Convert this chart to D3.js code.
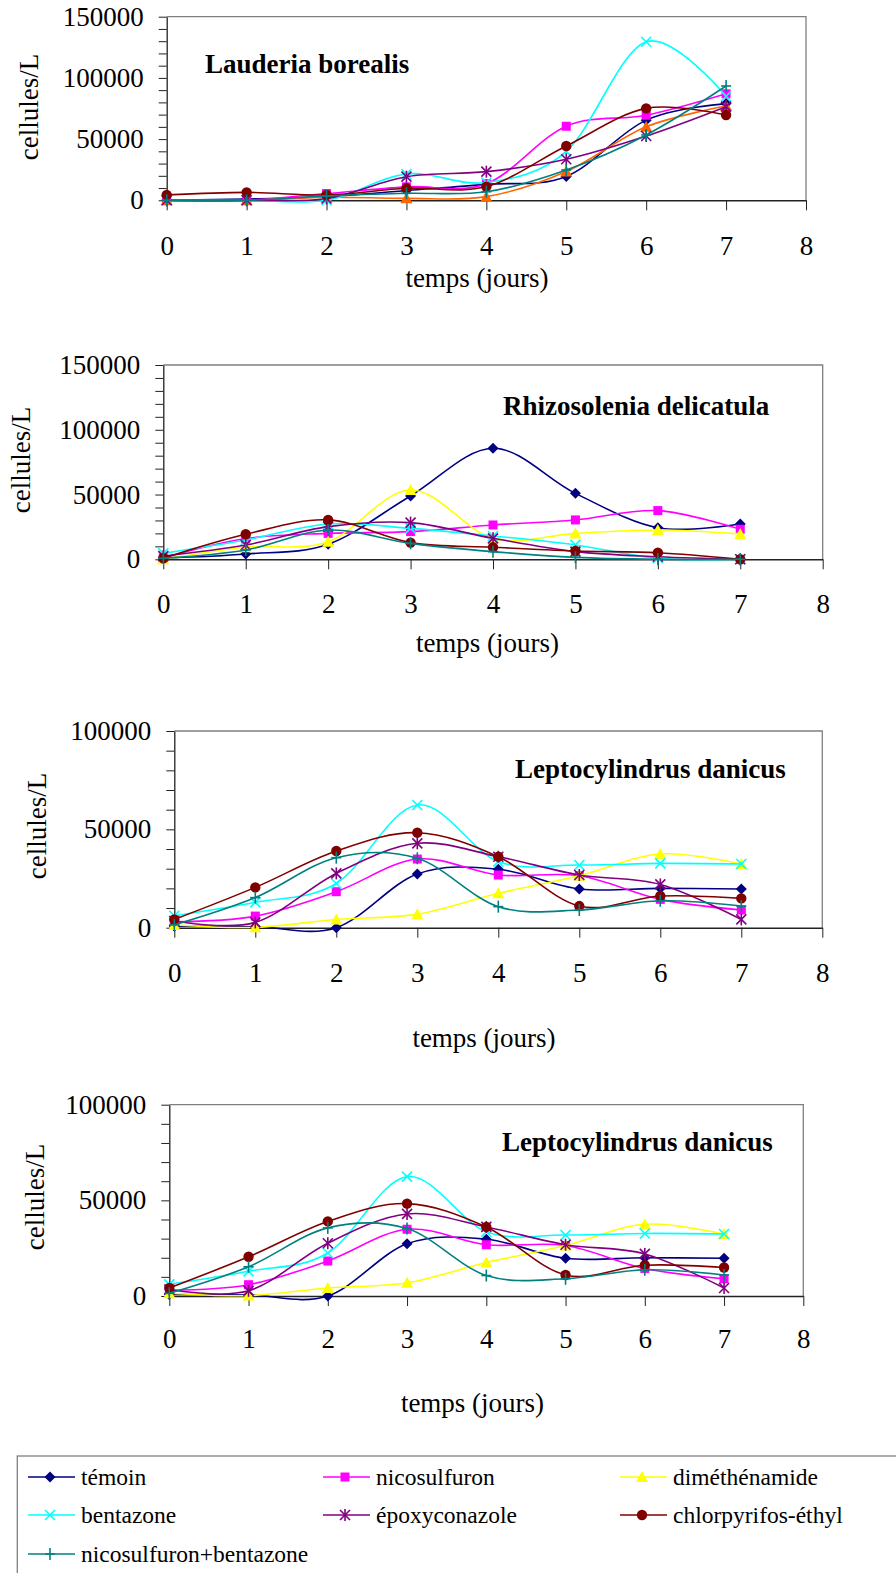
<!DOCTYPE html>
<html><head><meta charset="utf-8">
<script src="https://cdn.jsdelivr.net/npm/d3@7"></script>
<style>
html,body{margin:0;padding:0;background:#fff;}
svg{display:block;font-family:"Liberation Serif","Times New Roman",serif;}
</style></head>
<body>
<svg id="chart" width="896" height="1573"></svg>
<script>
// ---------- DATA ----------
const days = [0, 1, 2, 3, 4, 5, 6, 7];
const xTickValues = [0, 1, 2, 3, 4, 5, 6, 7, 8];
const seriesNames = ["témoin", "nicosulfuron", "diméthénamide", "bentazone", "époxyconazole", "chlorpyrifos-éthyl", "nicosulfuron+bentazone"];
const panelTitles = ["Lauderia borealis", "Rhizosolenia delicatula", "Leptocylindrus danicus", "Leptocylindrus danicus"];
const yTickLabels150 = [0, 50000, 100000, 150000];
const yTickLabels100 = [0, 50000, 100000];
const xAxisTitle = "temps (jours)";
const yAxisTitle = "cellules/L";

// Lauderia borealis (rows follow seriesNames)
const lauderiaValues = [
  [0, 1000, 3000, 8000, 13000, 19500, 65500, 79000],
  [0, 0, 5500, 11000, 13500, 60500, 69500, 87000],
  [0, 0, 2500, 1600, 3000, 23500, 60000, 77000],
  [0, 0, 0, 21500, 14500, 40000, 129500, 85000],
  [0, 0, 1500, 19300, 23400, 33500, 52500, 76500],
  [4400, 6500, 4400, 9800, 11200, 44400, 75100, 69700],
  [0, 0, 3500, 5700, 7000, 24800, 53400, 93400]
];
// Rhizosolenia delicatula
const rhizosoleniaValues = [
  [1000, 4100, 11600, 48900, 85700, 50900, 24400, 27300],
  [1000, 16000, 20000, 21400, 26500, 30400, 37600, 23200],
  [0, 9300, 13600, 53500, 16200, 20000, 22600, 19600],
  [4600, 14900, 27300, 23900, 18000, 11100, 800, 0],
  [2500, 11000, 25200, 28300, 16200, 5900, 2000, 0],
  [800, 19300, 30400, 12900, 9300, 6400, 5100, 0],
  [800, 7200, 22600, 12300, 5900, 1500, 0, 0]
];
// Leptocylindrus danicus
const leptocylindrusValues = [
  [800, 500, 0, 27300, 29700, 19700, 20000, 19700],
  [3000, 5900, 18300, 34900, 26800, 26400, 14400, 9000],
  [1400, 200, 4200, 6900, 17500, 26400, 37500, 32400],
  [6100, 12900, 22500, 62400, 33600, 31900, 32700, 32400],
  [3400, 2700, 27600, 42900, 36100, 26800, 22000, 4200],
  [4200, 20500, 39000, 48300, 36100, 11000, 16100, 14900],
  [1400, 15300, 35600, 35300, 10700, 9000, 13700, 11000]
];

// ---------- STYLE ----------
const seriesColors = ["#000080", "#FF00FF", "#FFFF00", "#00FFFF", "#800080", "#800000", "#008080"];
const seriesMarkers = ["diamond", "square", "triangle", "x", "asterisk", "circle", "plus"];
const FONT = 27;

const svg = d3.select("#chart");

function drawMarker(g, type, color) {
  const s = 5;
  if (type === "diamond") g.append("path").attr("d", `M0,${-s-0.5}L${s+0.5},0L0,${s+0.5}L${-s-0.5},0Z`).attr("fill", color);
  else if (type === "square") g.append("rect").attr("x", -4.5).attr("y", -4.5).attr("width", 9).attr("height", 9).attr("fill", color);
  else if (type === "triangle") g.append("path").attr("d", `M0,-6L6,5L-6,5Z`).attr("fill", color);
  else if (type === "circle") g.append("circle").attr("r", 5.2).attr("fill", color);
  else {
    const segs = [];
    if (type === "x" || type === "asterisk") segs.push([-s, -s, s, s], [-s, s, s, -s]);
    if (type === "asterisk") segs.push([0, -s - 1, 0, s + 1]);
    if (type === "plus") segs.push([0, -s - 1, 0, s + 1], [-s, 0, s, 0]);
    segs.forEach(p => g.append("line").attr("x1", p[0]).attr("y1", p[1]).attr("x2", p[2]).attr("y2", p[3])
      .attr("stroke", color).attr("stroke-width", 1.6));
  }
}

function drawPanel(cfg) {
  const x = d3.scaleLinear().domain([0, 8]).range([cfg.left, cfg.right]);
  const y = d3.scaleLinear().domain([0, cfg.yMax]).range([cfg.bottom, cfg.top]);
  const g = svg.append("g");

  // frame (top & right, grey)
  g.append("path").attr("d", `M${cfg.left},${cfg.top}H${cfg.right}V${cfg.bottom}`)
    .attr("fill", "none").attr("stroke", "#808080").attr("stroke-width", 1.3);

  // y axis
  const yAxis = d3.axisLeft(y)
    .tickValues(d3.range(0, cfg.yMax + 1, 10000))
    .tickSize(8).tickSizeOuter(0).tickPadding(15)
    .tickFormat(d => cfg.yLabels.includes(d) ? String(d) : "");
  const ya = g.append("g").attr("transform", `translate(${cfg.left},0)`).call(yAxis);
  ya.selectAll("text").attr("font-size", FONT).attr("font-family", "Liberation Serif, Times New Roman, serif").attr("fill", "#000");
  ya.selectAll("line").attr("stroke", "#222");
  ya.select(".domain").attr("stroke", "#222").attr("stroke-width", 1.3);

  // x axis
  const xAxis = d3.axisBottom(x).tickValues(xTickValues).tickSize(10).tickSizeOuter(0).tickFormat(d3.format("d"));
  const xa = g.append("g").attr("transform", `translate(0,${cfg.bottom})`).call(xAxis);
  xa.selectAll("text").attr("font-size", FONT).attr("font-family", "Liberation Serif, Times New Roman, serif")
    .attr("fill", "#000").attr("dy", null).attr("y", cfg.xLabelDy);
  xa.selectAll("line").attr("stroke", "#222");
  xa.select(".domain").attr("stroke", "#222").attr("stroke-width", 1.5);

  // titles
  g.append("text").attr("x", cfg.titleX).attr("y", cfg.titleY).attr("font-size", FONT).attr("font-weight", "bold")
    .text(cfg.title);
  g.append("text").attr("x", cfg.xTitleX).attr("y", cfg.xTitleY).attr("text-anchor", "middle").attr("font-size", FONT)
    .text(xAxisTitle);
  g.append("text").attr("transform", `translate(${cfg.yTitleX},${cfg.yTitleY}) rotate(-90)`)
    .attr("text-anchor", "middle").attr("dy", "0.35em").attr("font-size", FONT).text(yAxisTitle);

  // series
  const line = d3.line().x((d, i) => x(days[i])).y(d => y(d)).curve(d3.curveCardinal.tension(0));
  cfg.values.forEach((vals, si) => {
    const color = (cfg.colorOverride && cfg.colorOverride[si]) || seriesColors[si];
    g.append("path").attr("d", line(vals)).attr("fill", "none").attr("stroke", color).attr("stroke-width", 1.6);
    vals.forEach((v, i) => {
      const m = g.append("g").attr("transform", `translate(${x(days[i])},${y(v)})`);
      drawMarker(m, seriesMarkers[si], color);
    });
  });
}

drawPanel({left: 166.7, right: 806, top: 16.7, bottom: 200.3, yMax: 150000, yLabels: yTickLabels150,
  title: panelTitles[0], titleX: 205, titleY: 73, xLabelDy: 55, xTitleX: 477, xTitleY: 287, yTitleX: 29, yTitleY: 107,
  values: lauderiaValues, colorOverride: {2: "#FF6600"}});
drawPanel({left: 163.3, right: 822.7, top: 365, bottom: 559.3, yMax: 150000, yLabels: yTickLabels150,
  title: panelTitles[1], titleX: 503, titleY: 415, xLabelDy: 54, xTitleX: 487.5, xTitleY: 652, yTitleX: 21, yTitleY: 460,
  values: rhizosoleniaValues});
drawPanel({left: 174.3, right: 822.3, top: 731, bottom: 927.7, yMax: 100000, yLabels: yTickLabels100,
  title: panelTitles[2], titleX: 515, titleY: 778, xLabelDy: 54, xTitleX: 484, xTitleY: 1047, yTitleX: 37, yTitleY: 826,
  values: leptocylindrusValues});
drawPanel({left: 169.3, right: 803.3, top: 1104.7, bottom: 1296, yMax: 100000, yLabels: yTickLabels100,
  title: panelTitles[3], titleX: 502, titleY: 1151, xLabelDy: 52, xTitleX: 472.5, xTitleY: 1412, yTitleX: 35, yTitleY: 1197,
  values: leptocylindrusValues});

// legend
const lg = svg.append("g");
lg.append("rect").attr("x", 17.3).attr("y", 1456).attr("width", 900).attr("height", 200)
  .attr("fill", "none").attr("stroke", "#808080").attr("stroke-width", 1.3);
const colX = [28, 323, 620];
const rowY = [1477, 1515, 1554];
seriesNames.forEach((name, i) => {
  const cx = colX[i % 3], cy = rowY[Math.floor(i / 3)];
  const it = lg.append("g").attr("transform", `translate(${cx},${cy})`);
  it.append("line").attr("x1", 0).attr("x2", 47).attr("y1", 0).attr("y2", 0).attr("stroke", seriesColors[i]).attr("stroke-width", 1.6);
  drawMarker(it.append("g").attr("transform", "translate(22,0)"), seriesMarkers[i], seriesColors[i]);
  it.append("text").attr("x", 53).attr("y", 0).attr("dy", "0.32em").attr("font-size", 23.5).text(name);
});
</script>
</body></html>
